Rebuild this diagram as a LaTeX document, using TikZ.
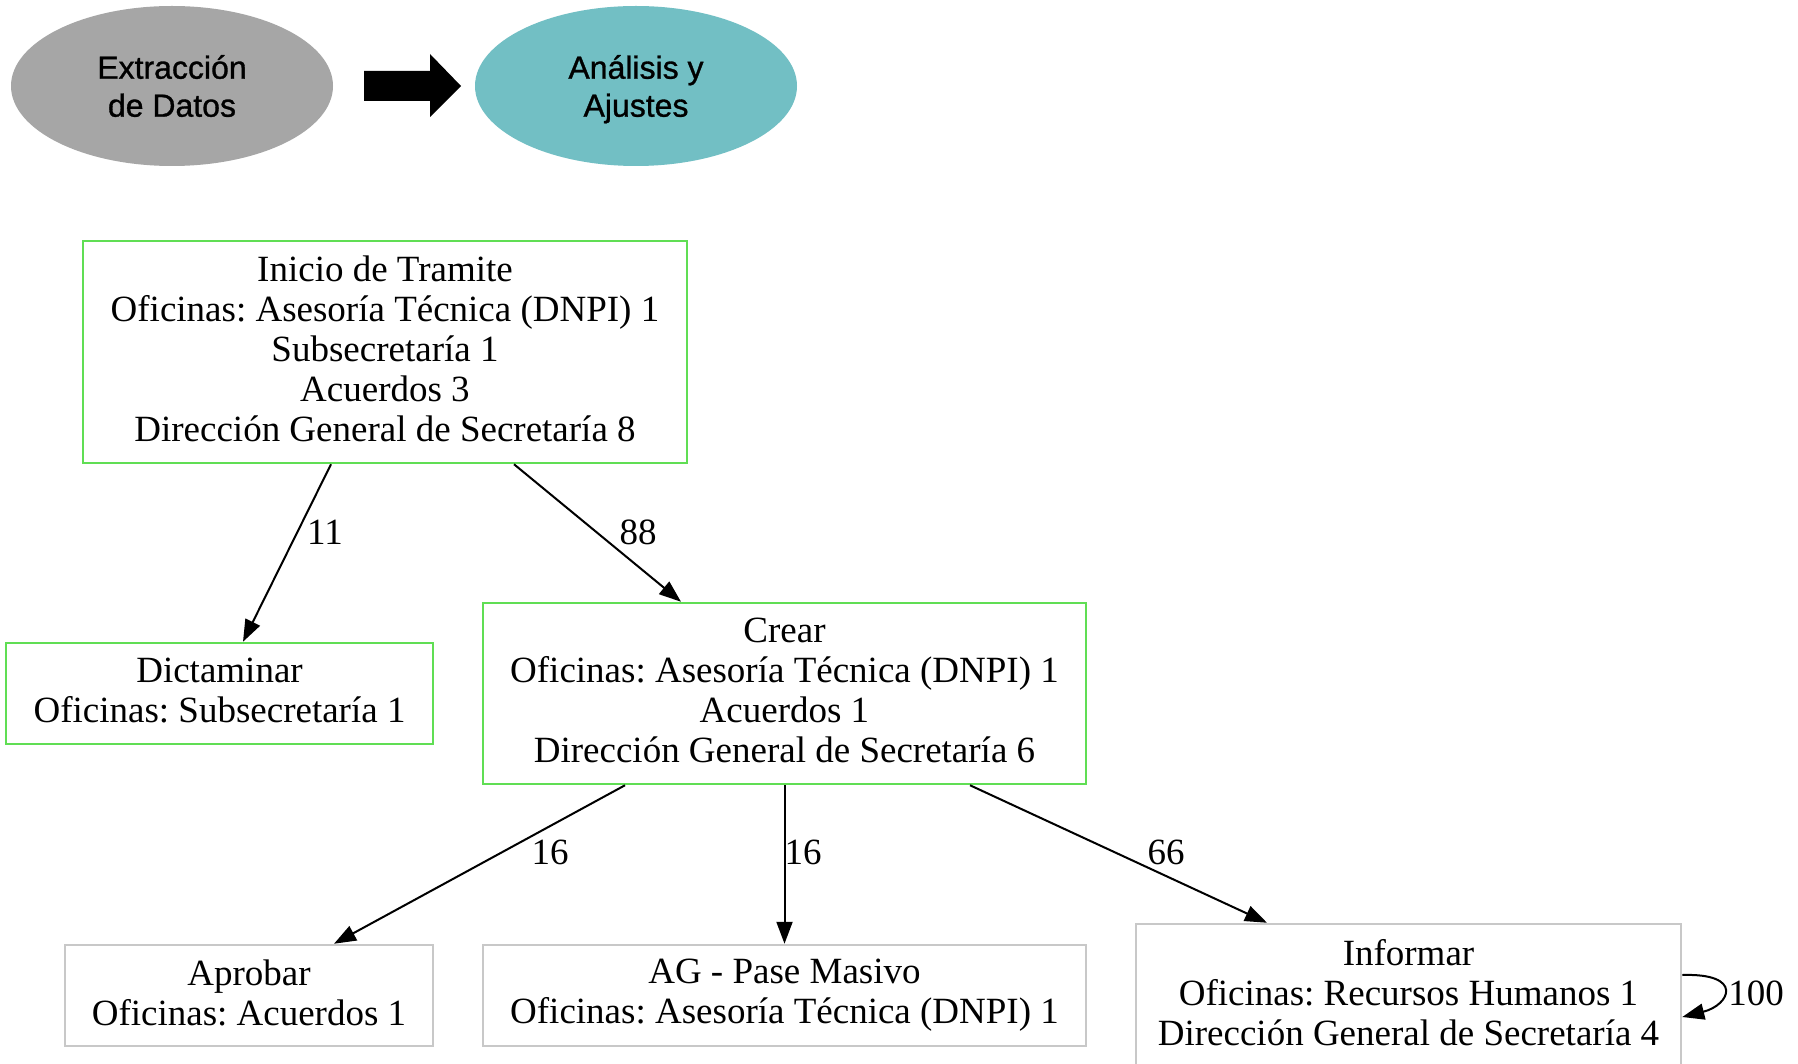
\documentclass[tikz,border=0pt]{standalone}
\usepackage{fontspec}
\setmainfont{Liberation Serif}
\newfontfamily\headfont[FakeBold=1]{Liberation Sans}
\usetikzlibrary{arrows.meta,shapes.geometric}

\definecolor{stagegray}{RGB}{166,166,166}
\definecolor{stageteal}{RGB}{114,191,196}
\definecolor{actgreen}{RGB}{96,222,84}
\definecolor{actgray}{RGB}{200,200,200}

% fixed line heights so every shape centres its text the same way
\newcommand\linestrut{\rule[-6.2pt]{0pt}{40pt}}
\newcommand\stagestrut{\rule[-7pt]{0pt}{37.4pt}}

\begin{document}
\frenchspacing
\begin{tikzpicture}[x=1pt,y=-1pt,
  stage/.style={ellipse, minimum width=322pt, minimum height=160pt, inner sep=0pt,
    font=\headfont\fontsize{32}{38}\selectfont, align=center,
    execute at end node=\stagestrut},
  act/.style={rectangle, inner sep=0pt, align=center,
    font=\fontsize{37}{40}\selectfont, line width=2.5pt,
    execute at end node=\linestrut},
  hot/.style={act, draw=actgreen},
  cold/.style={act, draw=actgray},
  flow/.style={line width=2pt, -{Triangle[length=22pt,width=16pt]}},
  lbl/.style={font=\fontsize{37}{40}\selectfont, inner sep=0pt}
]
\fill[white] (0,0) rectangle (1798,1064);
\useasboundingbox (0,0) rectangle (1798,1064);

% process stages
\node[stage, fill=stagegray] (extr) at (172,86) {\stagestrut Extracción\\de Datos};
\node[stage, fill=stageteal] (anal) at (636,86) {\stagestrut Análisis y\\Ajustes};
\fill[black] (364,71) -- (430,71) -- (430,54) -- (461,86) -- (430,117)
  -- (430,101) -- (364,101) -- cycle;

% activity graph
\node[hot, minimum width=604pt, minimum height=222pt] (inicio) at (385,352)
  {Inicio de Tramite\\Oficinas: Asesoría Técnica (DNPI) 1\\Subsecretaría 1\\Acuerdos 3\\Dirección General de Secretaría 8};
\node[hot, minimum width=427pt, minimum height=101pt] (dict) at (219.5,693.5)
  {Dictaminar\\Oficinas: Subsecretaría 1};
\node[hot, minimum width=603pt, minimum height=181pt] (crear) at (784.5,693.5)
  {Crear\\Oficinas: Asesoría Técnica (DNPI) 1\\Acuerdos 1\\Dirección General de Secretaría 6};
\node[cold, minimum width=368pt, minimum height=101pt] (aprob) at (249,995.5)
  {Aprobar\\Oficinas: Acuerdos 1};
\node[cold, minimum width=603pt, minimum height=101pt] (pase) at (784.5,995.5)
  {AG - Pase Masivo\\Oficinas: Asesoría Técnica (DNPI) 1};
\node[cold, minimum width=545pt, minimum height=144pt] (inform) at (1408.5,996)
  {Informar\\Oficinas: Recursos Humanos 1\\Dirección General de Secretaría 4};

% transitions
\draw[flow] ([xshift=-54pt]inicio.south) -- ([xshift=23.5pt]dict.north);
\draw[flow] ([xshift=129pt]inicio.south) -- ([xshift=-103.5pt]crear.north);
\draw[flow] ([xshift=-159.5pt]crear.south) -- ([xshift=85pt]aprob.north);
\draw[flow] (crear.south) -- (pase.north);
\draw[flow] ([xshift=185.5pt]crear.south) -- ([xshift=-141.5pt]inform.north);
\draw[flow] ([yshift=21pt]inform.east) .. controls +(62,-2) and +(48,-12) .. ([yshift=-21pt]inform.east);

% transition counts
\node[lbl] (n11) at (325,532) {11};
\node[lbl] (n88) at (638,532) {88};
\node[lbl] (n16a) at (550,852) {16};
\node[lbl] (n16b) at (803,852) {16};
\node[lbl] (n66) at (1166,852) {66};
\node[lbl] (n100) at (1756,993) {100};
\end{tikzpicture}
\end{document}
